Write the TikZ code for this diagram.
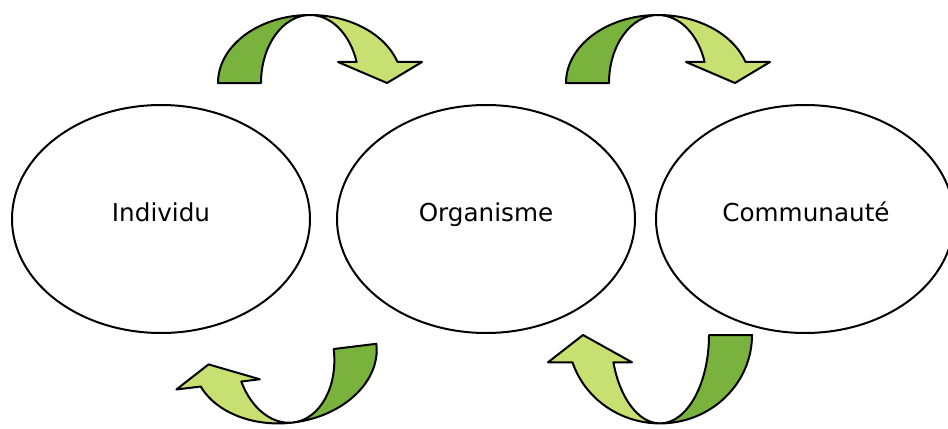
\documentclass[tikz,border=0pt]{standalone}
\usepackage{fontspec}
\setmainfont{DejaVu Sans}
\usetikzlibrary{shapes.geometric}
\definecolor{darkleaf}{RGB}{122,178,62}
\definecolor{lightleaf}{RGB}{200,223,114}
\tikzset{
  arrowline/.style={draw=black, line width=1.5pt, line join=round},
  ell/.style={draw=black, ellipse, line width=1.5pt, minimum width=223.5pt, minimum height=171pt, inner sep=0pt},
  lbl/.style={font=\fontsize{18.5}{22}\selectfont, inner sep=0pt, anchor=base}
}
\newcommand{\leafarrow}[1]{%
\begin{scope}[#1, x=0.75pt, y=0.75pt]
\draw[arrowline, fill=darkleaf] (-92,0) arc[start angle=180, end angle=90, x radius=92, y radius=68]
  arc[start angle=90, end angle=180, x radius=49, y radius=68] -- cycle;
\draw[arrowline, fill=lightleaf] (0,68) arc[start angle=90, end angle=18, x radius=92, y radius=68]
  -- (112,21) -- (77,0) -- (28,21) -- (46.6,21)
  arc[start angle=18, end angle=90, x radius=49, y radius=68] -- cycle;
\end{scope}}
\begin{document}
\begin{tikzpicture}[x=0.75pt, y=-0.75pt]
\useasboundingbox (0,0) rectangle (948,428);
\fill[white] (0,0) rectangle (948,428);
\clip (0,0) rectangle (948,428);
\node[ell] (ind) at (161,219) {};
\node[ell] (org) at (486,219) {};
\node[ell] (com) at (805,219) {};
\node[lbl] (indt) at (161,221) {Individu};
\node[lbl] (orgt) at (486,221) {Organisme};
\node[lbl] (comt) at (806,221) {Communauté};
\leafarrow{shift={(310,83)}}
\leafarrow{shift={(658,83)}}
\leafarrow{shift={(285,355)}, rotate=187}
\leafarrow{shift={(660,335)}, rotate=180, yscale=1.3}
\end{tikzpicture}
\end{document}
